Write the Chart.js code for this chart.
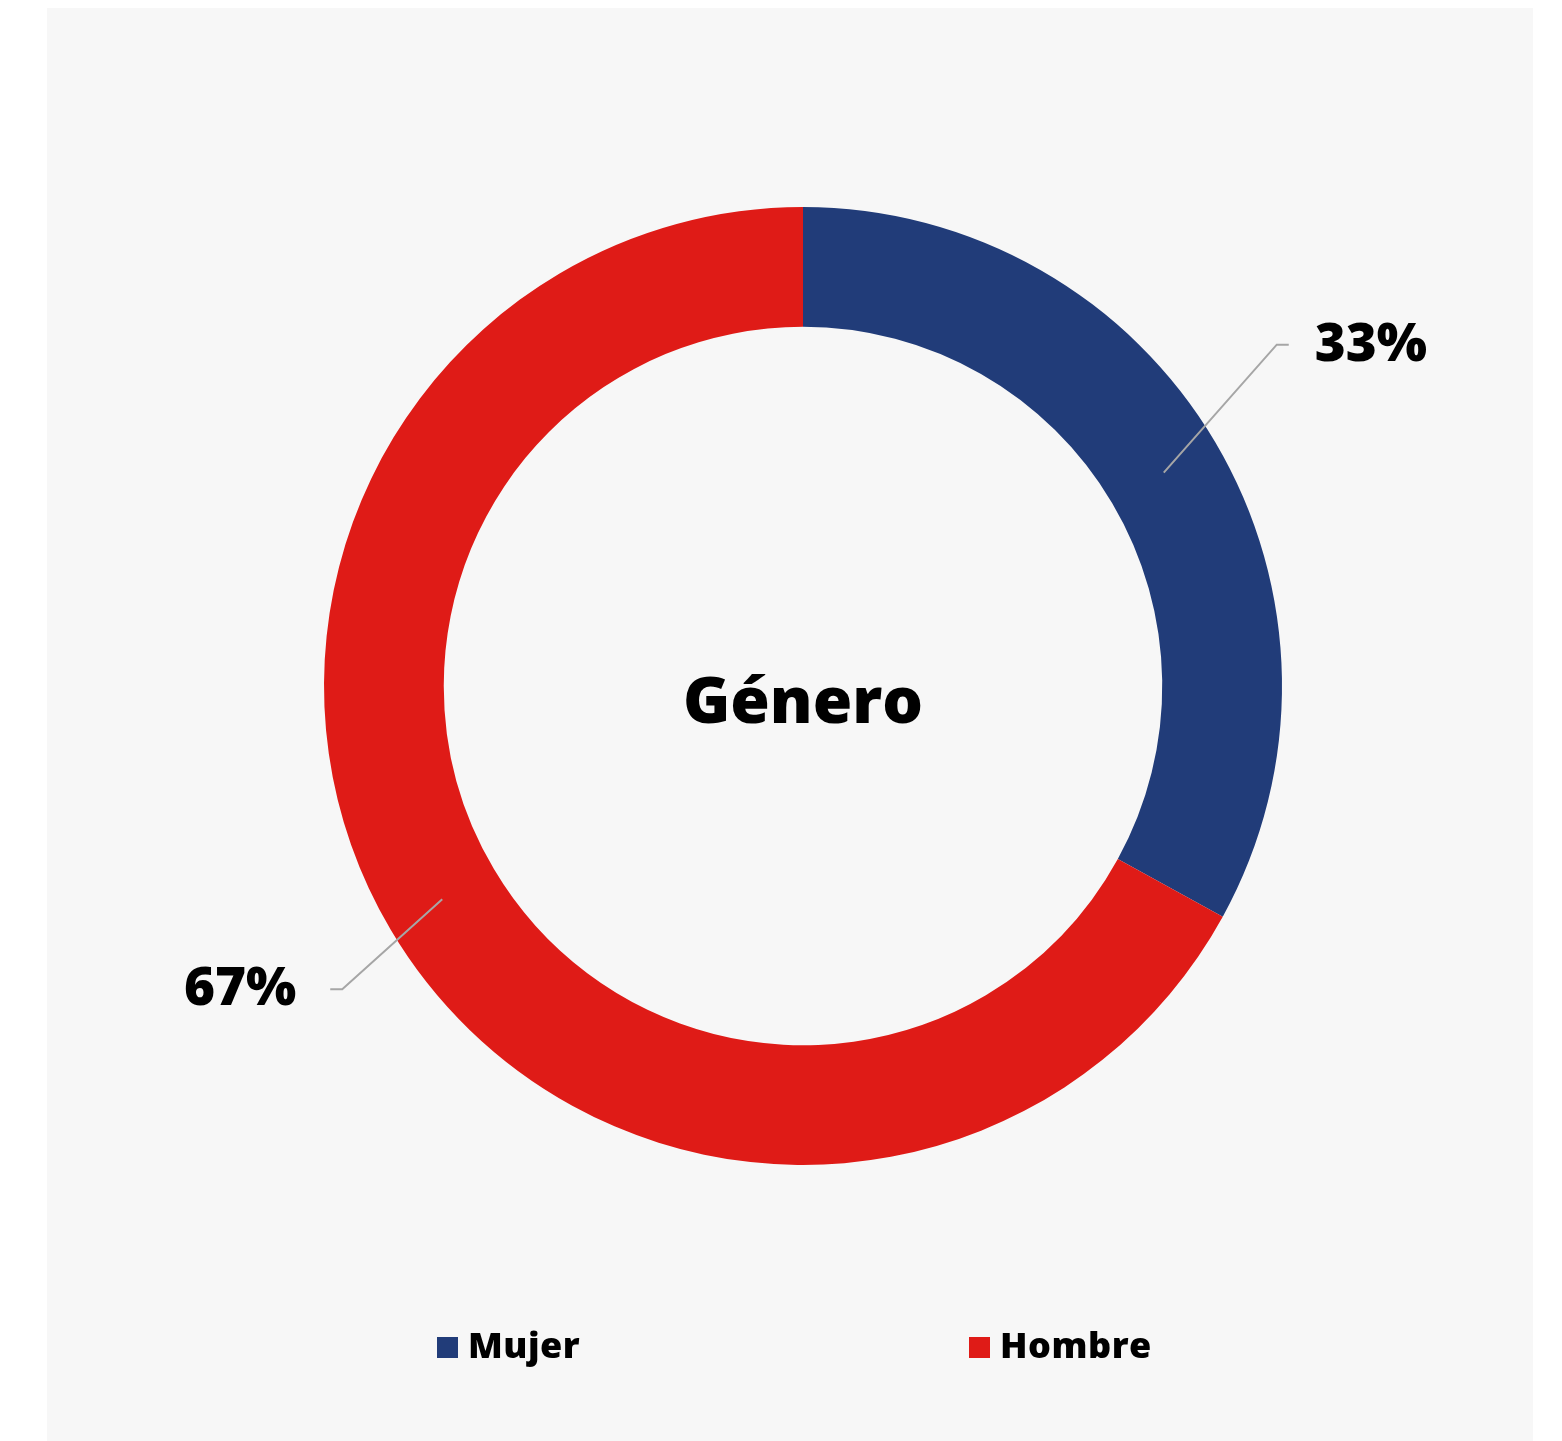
<!DOCTYPE html>
<html>
<head>
<meta charset="utf-8">
<script src="https://cdn.jsdelivr.net/npm/chart.js@4/dist/chart.umd.min.js"></script>
<style>
  html, body { margin: 0; padding: 0; background: #ffffff; }
  #panel { position: absolute; left: 47px; top: 8px; width: 1486px; height: 1433px; background: #f7f7f7; }
  #panel canvas { display: block; }
</style>
</head>
<body>
<div id="panel"><canvas id="c" width="1486" height="1433"></canvas></div>
<script>
const categories = ['Mujer', 'Hombre'];
const values = [33, 67];
const valueLabels = ['33%', '67%'];
const colors = ['#213c79', '#df1b17'];
const centerTitle = 'Género';

const FONT = "'Open Sans', 'Noto Sans', sans-serif";

const leaderPlugin = {
  id: 'leaders',
  afterDatasetsDraw(chart) {
    const ctx = chart.ctx;
    const meta = chart.getDatasetMeta(0);
    const elbows = [{dx: 113, dy: -128, side: 1, gap: 26}, {dx: -100, dy: 90, side: -1, gap: 34}];
    meta.data.forEach((arc, i) => {
      const p = arc.getProps(['x', 'y', 'startAngle', 'endAngle', 'innerRadius', 'outerRadius'], true);
      const mid = (p.startAngle + p.endAngle) / 2;
      const r = (p.innerRadius + p.outerRadius) / 2;
      const sx = p.x + Math.cos(mid) * r;
      const sy = p.y + Math.sin(mid) * r;
      const e = elbows[i];
      const ex = sx + e.dx, ey = sy + e.dy;
      const tx = ex + e.side * 12;
      ctx.save();
      ctx.strokeStyle = '#a6a6a6';
      ctx.lineWidth = 2;
      ctx.beginPath();
      ctx.moveTo(sx, sy);
      ctx.lineTo(ex, ey);
      ctx.lineTo(tx, ey);
      ctx.stroke();
      ctx.fillStyle = '#000000';
      ctx.font = '800 53px ' + FONT;
      ctx.textBaseline = 'middle';
      ctx.textAlign = e.side > 0 ? 'left' : 'right';
      ctx.fillText(valueLabels[i], tx + e.side * e.gap, ey + 1);
      ctx.restore();
    });
    ctx.save();
    ctx.fillStyle = '#000000';
    ctx.font = '800 64px ' + FONT;
    ctx.textAlign = 'center';
    ctx.textBaseline = 'alphabetic';
    const a = meta.data[0];
    ctx.fillText(centerTitle, a.x, a.y + 37);
    ctx.restore();
    const legendX = [390, 922];
    ctx.save();
    ctx.font = '800 36px ' + FONT;
    ctx.letterSpacing = '0.5px';
    ctx.textBaseline = 'middle';
    ctx.textAlign = 'left';
    categories.forEach((c, i) => {
      ctx.fillStyle = colors[i];
      ctx.fillRect(legendX[i], 1329, 21, 21);
      ctx.fillStyle = '#000000';
      ctx.fillText(c, legendX[i] + 31, 1340);
    });
    ctx.restore();
  }
};

new Chart(document.getElementById('c'), {
  type: 'doughnut',
  data: {
    labels: categories,
    datasets: [{
      data: values,
      backgroundColor: colors,
      borderWidth: 0,
      hoverOffset: 0
    }]
  },
  options: {
    responsive: false,
    animation: false,
    cutout: '75%',
    layout: { padding: { left: 263, right: 237, top: 199, bottom: 276 } },
    plugins: {
      legend: { display: false },
      tooltip: { enabled: false }
    },
    events: []
  },
  plugins: [leaderPlugin]
});
</script>
</body>
</html>
